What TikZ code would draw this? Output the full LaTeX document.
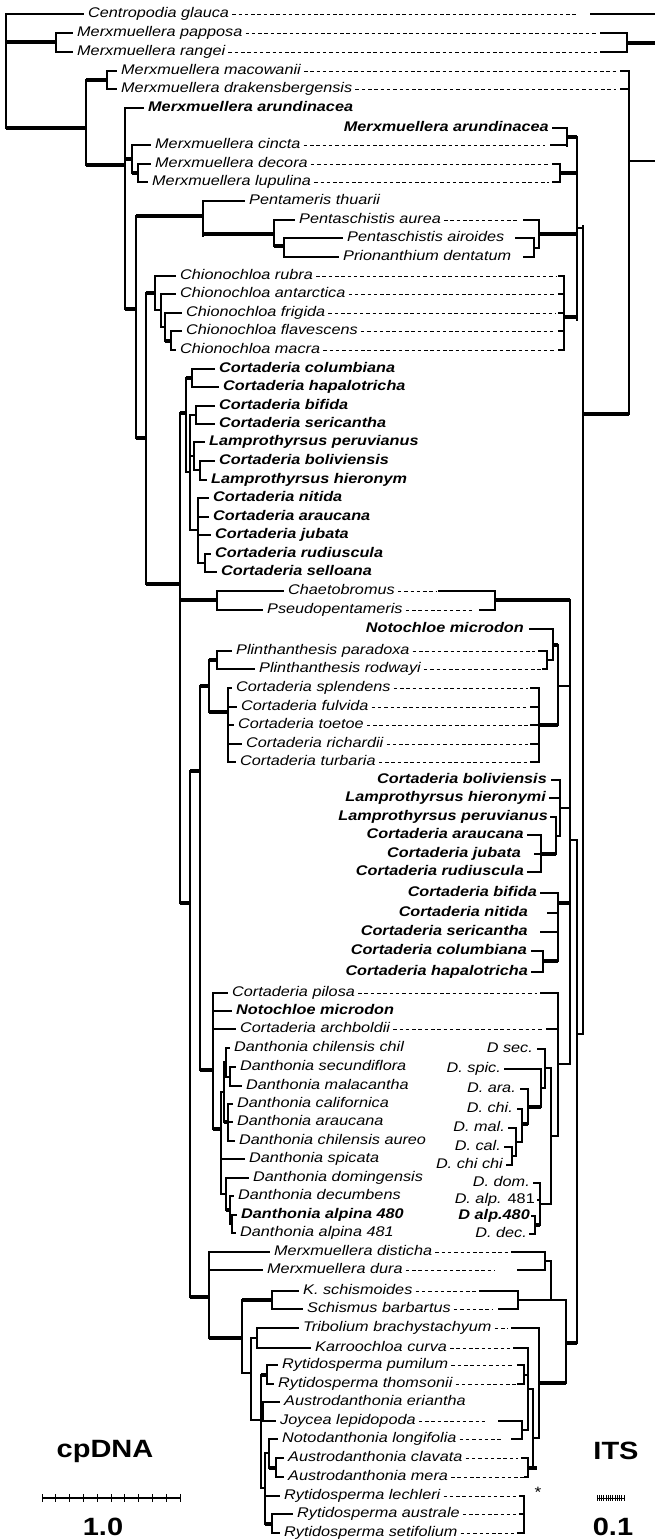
\documentclass[tikz,border=0pt]{standalone}
\usepackage{fontspec}
\setmainfont{Liberation Sans}[FakeStretch=1.16]
\tikzset{
	br/.style={line width=1.4pt, line cap=rect},
	thk/.style={line width=4.6pt},
	dsh/.style={line width=0.8pt, dash pattern=on 3.5pt off 2.8pt},
	tx/.style={anchor=west, inner sep=0pt, text height=10pt, text depth=3pt, font=\fontsize{14}{16}\selectfont\itshape},
	txb/.style={tx, font=\fontsize{14}{16}\selectfont\bfseries\itshape},
	rx/.style={tx, anchor=east},
	rxb/.style={txb, anchor=east},
	big/.style={inner sep=0pt, font=\fontsize{25}{28}\selectfont\bfseries}
}
\newcommand\ltip[2]{\draw[br] (#1,0 |- #2.west) -- ([xshift=-5pt]#2.west);}
\newcommand\rtip[4]{\draw[dsh] ([xshift=3pt]#1.east) -- (#1.east -| #2,0);
	\draw[br] (#1.east -| #3,0) -- (#1.east -| #4,0);}
\newcommand\rtick[3]{\draw[br] (#1.east -| #2,0) -- (#1.east -| #3,0);}
\begin{document}
\begin{tikzpicture}[x=1pt, y=-1pt]
	\useasboundingbox (0,0) rectangle (655,1540);

	\node[tx] (Lcen) at (88,14) {Centropodia glauca};
	\node[tx] (Lpap) at (77,33) {Merxmuellera papposa};
	\node[tx] (Lran) at (77,52) {Merxmuellera rangei};
	\node[tx] (Lmac) at (121,71) {Merxmuellera macowanii};
	\node[tx] (Ldra) at (121,89) {Merxmuellera drakensbergensis};
	\node[txb] (Laru) at (148,108) {Merxmuellera arundinacea};
	\node[tx] (Lcin) at (155,145) {Merxmuellera cincta};
	\node[tx] (Ldec) at (155,164) {Merxmuellera decora};
	\node[tx] (Llup) at (152,182) {Merxmuellera lupulina};
	\node[tx] (Lthu) at (249,201) {Pentameris thuarii};
	\node[tx] (Laur) at (299,220) {Pentaschistis aurea};
	\node[tx] (Lair) at (347,238) {Pentaschistis airoides};
	\node[tx] (Lpri) at (343,257) {Prionanthium dentatum};
	\node[tx] (Lrub) at (180,276) {Chionochloa rubra};
	\node[tx] (Lant) at (180,294) {Chionochloa antarctica};
	\node[tx] (Lfri) at (186,313) {Chionochloa frigida};
	\node[tx] (Lfla) at (186,331) {Chionochloa flavescens};
	\node[tx] (Lmcr) at (180,350) {Chionochloa macra};
	\node[txb] (Lcol) at (219,369) {Cortaderia columbiana};
	\node[txb] (Lhap) at (223,387) {Cortaderia hapalotricha};
	\node[txb] (Lbif) at (219,406) {Cortaderia bifida};
	\node[txb] (Lser) at (219,424) {Cortaderia sericantha};
	\node[txb] (Lper) at (209,442) {Lamprothyrsus peruvianus};
	\node[txb] (Lbol) at (219,461) {Cortaderia boliviensis};
	\node[txb] (Lhie) at (211,480) {Lamprothyrsus hieronym};
	\node[txb] (Lnit) at (213,498) {Cortaderia nitida};
	\node[txb] (Lara) at (213,517) {Cortaderia araucana};
	\node[txb] (Ljub) at (215,535) {Cortaderia jubata};
	\node[txb] (Lrud) at (215,554) {Cortaderia rudiuscula};
	\node[txb] (Lsel) at (221,572) {Cortaderia selloana};
	\node[tx] (Lcha) at (288,591) {Chaetobromus};
	\node[tx] (Lpse) at (267,610) {Pseudopentameris};
	\node[tx] (Lpar) at (236,651) {Plinthanthesis paradoxa};
	\node[tx] (Lrod) at (259,669) {Plinthanthesis rodwayi};
	\node[tx] (Lspl) at (236,688) {Cortaderia splendens};
	\node[tx] (Lful) at (241,707) {Cortaderia fulvida};
	\node[tx] (Ltoe) at (238,725) {Cortaderia toetoe};
	\node[tx] (Lric) at (246,744) {Cortaderia richardii};
	\node[tx] (Ltur) at (240,762) {Cortaderia turbaria};
	\node[tx] (Lpil) at (232,993) {Cortaderia pilosa};
	\node[txb] (Lnot) at (236,1011) {Notochloe microdon};
	\node[tx] (Larc) at (240,1029) {Cortaderia archboldii};
	\node[tx] (Ldch) at (234,1048) {Danthonia chilensis chil};
	\node[tx] (Ldse) at (240,1067) {Danthonia secundiflora};
	\node[tx] (Ldma) at (246,1086) {Danthonia malacantha};
	\node[tx] (Ldca) at (237,1104) {Danthonia californica};
	\node[tx] (Ldar) at (237,1122) {Danthonia araucana};
	\node[tx] (Ldau) at (239,1141) {Danthonia chilensis aureo};
	\node[tx] (Ldsp) at (249,1159) {Danthonia spicata};
	\node[tx] (Ldom) at (253,1178) {Danthonia domingensis};
	\node[tx] (Lddc) at (238,1196) {Danthonia decumbens};
	\node[txb] (Ld80) at (241,1215) {Danthonia alpina 480};
	\node[tx] (Ld81) at (240,1233) {Danthonia alpina 481};
	\node[tx] (Ldis) at (274,1252) {Merxmuellera disticha};
	\node[tx] (Ldur) at (267,1270) {Merxmuellera dura};
	\node[tx] (Lksc) at (303,1291) {K. schismoides};
	\node[tx] (Lsch) at (307,1309) {Schismus barbartus};
	\node[tx] (Ltri) at (303,1328) {Tribolium brachystachyum};
	\node[tx] (Lkar) at (315,1348) {Karroochloa curva};
	\node[tx] (Lpum) at (282,1365) {Rytidosperma pumilum};
	\node[tx] (Ltho) at (278,1384) {Rytidosperma thomsonii};
	\node[tx] (Leri) at (284,1402) {Austrodanthonia eriantha};
	\node[tx] (Ljoy) at (280,1421) {Joycea lepidopoda};
	\node[tx] (Lnld) at (282,1439) {Notodanthonia longifolia};
	\node[tx] (Lcla) at (288,1458) {Austrodanthonia clavata};
	\node[tx] (Lmer) at (288,1477) {Austrodanthonia mera};
	\node[tx] (Llec) at (284,1496) {Rytidosperma lechleri};
	\node[tx] (Laus) at (297,1514) {Rytidosperma australe};
	\node[tx] (Lset) at (284,1533) {Rytidosperma setifolium};

	\node[rxb] (Raru) at (549,128) {Merxmuellera arundinacea};
	\node[rxb] (Rnot) at (524,629) {Notochloe microdon};
	\node[rxb] (Rbol) at (547,780) {Cortaderia boliviensis};
	\node[rxb] (Rhie) at (546,798) {Lamprothyrsus hieronymi};
	\node[rxb] (Rper) at (548,817) {Lamprothyrsus peruvianus};
	\node[rxb] (Rara) at (524,835) {Cortaderia araucana};
	\node[rxb] (Rjub) at (521,854) {Cortaderia jubata};
	\node[rxb] (Rrud) at (524,872) {Cortaderia rudiuscula};
	\node[rxb] (Rbif) at (537,893) {Cortaderia bifida};
	\node[rxb] (Rnit) at (528,913) {Cortaderia nitida};
	\node[rxb] (Rser) at (528,932) {Cortaderia sericantha};
	\node[rxb] (Rcol) at (527,951) {Cortaderia columbiana};
	\node[rxb] (Rhap) at (528,972) {Cortaderia hapalotricha};
	\node[rx] (Rsec) at (533,1049) {D sec.};
	\node[rx] (Rspi) at (501,1069) {D. spic.};
	\node[rx] (Rdara) at (516,1089) {D. ara.};
	\node[rx] (Rdchi) at (513,1109) {D. chi.};
	\node[rx] (Rdmal) at (505,1128) {D. mal.};
	\node[rx] (Rdcal) at (501,1147) {D. cal.};
	\node[rx] (Rdcc) at (503,1165) {D. chi chi};
	\node[rx] (Rddom) at (530,1183) {D. dom.};
	\node[rx] (Rda81) at (535,1200) {D. alp. \upshape 481};
	\node[rxb] (Rda80) at (530,1216) {D alp.480};
	\node[rx] (Rddec) at (527,1234) {D. dec.};

	\draw[br] (6,14) -- (6,128);
	\ltip{6}{Lcen}
	\draw[thk] (6,42) -- (56,42);
	\draw[br] (56,33) -- (56,52);
	\ltip{56}{Lpap} \ltip{56}{Lran}
	\draw[thk] (6,128) -- (86,128);
	\draw[br] (86,80) -- (86,165);
	\draw[thk] (86,80) -- (107,80);
	\draw[br] (107,71) -- (107,89);
	\ltip{107}{Lmac} \ltip{107}{Ldra}
	\draw[thk] (86,165) -- (125,165);
	\draw[br] (125,108) -- (125,309);
	\ltip{125}{Laru}
	\draw[thk] (125,159) -- (132,159);
	\draw[br] (132,145) -- (132,173);
	\ltip{132}{Lcin}
	\draw[thk] (132,173) -- (138,173);
	\draw[br] (138,164) -- (138,182);
	\ltip{138}{Ldec} \ltip{138}{Llup}
	\draw[thk] (125,309) -- (136,309);
	\draw[br] (136,216) -- (136,438);
	\draw[thk] (136,216) -- (203,216);
	\draw[br] (203,201) -- (203,236);
	\ltip{203}{Lthu}
	\draw[thk] (203,234) -- (274,234);
	\draw[br] (274,220) -- (274,246);
	\ltip{274}{Laur}
	\draw[thk] (274,246) -- (284,246);
	\draw[br] (284,238) -- (284,257);
	\ltip{284}{Lair} \ltip{284}{Lpri}
	\draw[thk] (136,438) -- (146,438);
	\draw[br] (146,293) -- (146,584);
	\draw[thk] (146,293) -- (155,293);
	\draw[br] (155,276) -- (155,310) -- (161,310);
	\ltip{155}{Lrub}
	\draw[br] (161,294) -- (161,327) -- (165,327);
	\ltip{161}{Lant}
	\draw[br] (165,313) -- (165,341);
	\ltip{165}{Lfri}
	\draw[thk] (165,341) -- (171,341);
	\draw[br] (171,331) -- (171,350);
	\ltip{171}{Lfla} \ltip{171}{Lmcr}

	\draw[thk] (146,584) -- (180,584);
	\draw[br] (180,413) -- (180,903);
	\draw[thk] (180,413) -- (186,413);
	\draw[br] (186,378) -- (186,472) -- (190,472);
	\draw[thk] (186,378) -- (192,378);
	\draw[br] (192,369) -- (192,387);
	\ltip{192}{Lcol} \ltip{192}{Lhap}
	\draw[br] (190,415) -- (190,530);
	\draw[br] (190,415) -- (196,415);
	\draw[br] (196,406) -- (196,424);
	\ltip{196}{Lbif} \ltip{196}{Lser}
	\draw[br] (190,456) -- (194,456);
	\draw[br] (194,442) -- (194,470) -- (200,470);
	\ltip{194}{Lper}
	\draw[br] (200,461) -- (200,480);
	\ltip{200}{Lbol} \ltip{200}{Lhie}
	\draw[br] (190,530) -- (198,530);
	\draw[br] (198,498) -- (198,563) -- (205,563);
	\ltip{198}{Lnit} \ltip{198}{Lara} \ltip{198}{Ljub}
	\draw[br] (205,554) -- (205,572);
	\ltip{205}{Lrud} \ltip{205}{Lsel}

	\draw[thk] (180,600) -- (217,600);
	\draw[br] (217,591) -- (217,610);
	\ltip{217}{Lcha} \ltip{217}{Lpse}
	\draw[thk] (180,903) -- (190,903);
	\draw[br] (190,771) -- (190,1297);
	\draw[thk] (190,771) -- (200,771);
	\draw[br] (200,686) -- (200,1070);
	\draw[thk] (200,686) -- (209,686);
	\draw[br] (209,660) -- (209,712);
	\draw[thk] (209,660) -- (217,660);
	\draw[br] (217,651) -- (217,669);
	\ltip{217}{Lpar} \ltip{217}{Lrod}
	\draw[thk] (209,712) -- (228,712);
	\draw[br] (228,688) -- (228,762);
	\ltip{228}{Lspl} \ltip{228}{Lful} \ltip{228}{Ltoe} \ltip{228}{Lric} \ltip{228}{Ltur}
	\draw[thk] (200,1070) -- (213,1070);
	\draw[br] (213,993) -- (213,1129);
	\ltip{213}{Lpil} \ltip{213}{Lnot} \ltip{213}{Larc}
	\draw[thk] (213,1129) -- (221,1129);
	\draw[br] (221,1092) -- (221,1194);
	\draw[br] (221,1092) -- (224,1092);
	\draw[br] (224,1062) -- (224,1122);
	\draw[br] (224,1062) -- (226,1062);
	\draw[br] (226,1048) -- (226,1077) -- (230,1077);
	\ltip{226}{Ldch}
	\draw[br] (230,1067) -- (230,1086);
	\ltip{230}{Ldse} \ltip{230}{Ldma}
	\draw[thk] (224,1122) -- (228,1122);
	\draw[br] (228,1104) -- (228,1141);
	\ltip{228}{Ldca} \ltip{228}{Ldar} \ltip{228}{Ldau}
	\ltip{221}{Ldsp}
	\draw[br] (221,1194) -- (226,1194);
	\draw[br] (226,1178) -- (226,1210);
	\ltip{226}{Ldom}
	\draw[thk] (226,1210) -- (230,1210);
	\draw[br] (230,1196) -- (230,1224) -- (232,1224);
	\ltip{230}{Lddc}
	\draw[br] (232,1215) -- (232,1233);
	\ltip{232}{Ld80} \ltip{232}{Ld81}

	\draw[thk] (190,1297) -- (209,1297);
	\draw[br] (209,1252) -- (209,1338);
	\ltip{209}{Ldis} \ltip{209}{Ldur}
	\draw[thk] (209,1338) -- (242,1338);
	\draw[br] (242,1300) -- (242,1373) -- (251,1373);
	\draw[thk] (242,1300) -- (272,1300);
	\draw[br] (272,1291) -- (272,1309);
	\ltip{272}{Lksc} \ltip{272}{Lsch}
	\draw[br] (251,1338) -- (251,1420) -- (261,1420);
	\draw[br] (251,1338) -- (257,1338);
	\draw[br] (257,1328) -- (257,1348);
	\ltip{257}{Ltri} \ltip{257}{Lkar}
	\draw[br] (261,1375) -- (261,1488) -- (265,1488);
	\draw[thk] (261,1375) -- (267,1375);
	\draw[br] (267,1365) -- (267,1384);
	\ltip{267}{Lpum} \ltip{267}{Ltho}
	\draw[br] (261,1412) -- (263,1412);
	\draw[br] (263,1402) -- (263,1421);
	\ltip{263}{Leri} \ltip{263}{Ljoy}
	\draw[br] (265,1453) -- (265,1524);
	\draw[br] (265,1453) -- (269,1453);
	\draw[br] (269,1439) -- (269,1468);
	\ltip{269}{Lnld}
	\draw[thk] (269,1468) -- (276,1468);
	\draw[br] (276,1458) -- (276,1477);
	\ltip{276}{Lcla} \ltip{276}{Lmer}
	\ltip{265}{Llec}
	\draw[thk] (265,1524) -- (272,1524);
	\draw[br] (272,1514) -- (272,1533);
	\ltip{272}{Laus} \ltip{272}{Lset}

	\draw[dsh] ([xshift=3pt]Lcen.east) -- (Lcen.east -| 576,0);
	\draw[br, line width=2.4pt] (Lcen.east -| 591,0) -- (Lcen.east -| 655,0);
	\rtip{Lpap}{597}{601}{627}
	\rtip{Lran}{597}{601}{627}
	\draw[br] (627,33) -- (627,52);
	\draw[thk] (627,43) -- (655,43);
	\rtip{Lmac}{618}{621}{629}
	\rtip{Ldra}{616}{621}{629}
	\draw[br] (629,71) -- (629,414);
	\draw[br] (629,161) -- (655,161);
	\draw[thk] (583,414) -- (629,414);
	\draw[br] (583,226) -- (583,1034);
	\draw[br] (577,228) -- (583,228);
	\draw[br] (577,137) -- (577,320);
	\rtick{Raru}{553}{567}
	\rtip{Lcin}{545}{551}{567}
	\draw[br] (567,128) -- (567,146);
	\draw[thk] (567,137) -- (577,137);
	\rtip{Ldec}{549}{553}{560}
	\rtip{Llup}{549}{553}{560}
	\draw[br] (560,164) -- (560,182);
	\draw[thk] (560,173) -- (577,173);
	\rtip{Laur}{518}{524}{539}
	\draw[br] (539,220) -- (539,248);
	\draw[thk] (539,234) -- (577,234);
	\rtick{Lair}{516}{534}
	\rtick{Lpri}{524}{534}
	\draw[br] (534,238) -- (534,257);
	\draw[br] (534,248) -- (539,248);
	\rtip{Lrub}{556}{559}{564}
	\rtip{Lant}{556}{559}{564}
	\rtip{Lfri}{556}{559}{564}
	\rtip{Lfla}{556}{559}{564}
	\rtip{Lmcr}{556}{559}{564}
	\draw[br] (564,276) -- (564,350);
	\draw[thk] (564,317) -- (577,317);

	\rtip{Lcha}{436}{439}{495}
	\rtip{Lpse}{474}{480}{495}
	\draw[br] (495,591) -- (495,610);
	\draw[thk] (495,600) -- (570,600);
	\draw[br] (570,600) -- (570,1064);
	\draw[br] (570,840) -- (577,840);
	\draw[br] (577,840) -- (577,1343);
	\draw[br] (577,1034) -- (583,1034);
	\rtick{Rnot}{530}{553}
	\rtip{Lpar}{535}{539}{547}
	\rtip{Lrod}{541}{543}{547}
	\draw[br] (547,651) -- (547,669);
	\draw[br] (547,660) -- (553,660);
	\draw[br] (553,629) -- (553,660);
	\draw[thk] (553,645) -- (558,645);
	\rtip{Lspl}{528}{531}{539}
	\rtip{Lful}{528}{531}{539}
	\rtip{Ltoe}{528}{531}{539}
	\rtip{Lric}{528}{531}{539}
	\rtip{Ltur}{528}{531}{539}
	\draw[br] (539,688) -- (539,762);
	\draw[thk] (539,725) -- (558,725);
	\draw[br] (558,645) -- (558,725);
	\draw[br] (558,686) -- (570,686);

	\rtick{Rbol}{552}{560}
	\rtick{Rhie}{550}{560}
	\draw[br] (560,780) -- (560,836);
	\draw[br] (560,808) -- (570,808);
	\rtick{Rper}{551}{556}
	\draw[br] (556,817) -- (556,854);
	\draw[br] (556,836) -- (560,836);
	\rtick{Rara}{528}{541}
	\rtick{Rjub}{535}{541}
	\rtick{Rrud}{528}{541}
	\draw[br] (541,835) -- (541,872);
	\draw[thk] (541,854) -- (556,854);
	\rtick{Rbif}{541}{558}
	\rtick{Rnit}{548}{558}
	\rtick{Rser}{541}{558}
	\draw[br] (558,893) -- (558,961);
	\draw[thk] (558,903) -- (570,903);
	\rtick{Rcol}{532}{543}
	\rtick{Rhap}{532}{543}
	\draw[br] (543,951) -- (543,972);
	\draw[thk] (543,961) -- (558,961);

	\rtip{Lpil}{537}{541}{558}
	\rtip{Larc}{543}{547}{558}
	\draw[br] (558,993) -- (558,1136);
	\draw[br] (558,1064) -- (570,1064);
	\rtick{Rsec}{538}{545}
	\draw[br] (545,1049) -- (545,1088);
	\draw[br] (545,1068) -- (551,1068);
	\rtick{Rspi}{505}{541}
	\draw[br] (541,1069) -- (541,1107);
	\draw[br] (541,1088) -- (545,1088);
	\rtick{Rdara}{521}{528}
	\draw[br] (528,1089) -- (528,1124);
	\draw[thk] (528,1107) -- (541,1107);
	\rtick{Rdchi}{518}{522}
	\draw[br] (522,1109) -- (522,1142);
	\draw[thk] (522,1124) -- (528,1124);
	\rtick{Rdmal}{509}{516}
	\draw[br] (516,1128) -- (516,1156);
	\draw[br] (516,1142) -- (522,1142);
	\rtick{Rdcal}{505}{512}
	\rtick{Rdcc}{507}{512}
	\draw[br] (512,1147) -- (512,1165);
	\draw[br] (512,1156) -- (516,1156);
	\rtick{Rddom}{534}{540}
	\rtick{Rda81}{538}{540}
	\draw[br] (540,1183) -- (540,1225);
	\rtick{Rda80}{532}{535}
	\rtick{Rddec}{530}{535}
	\draw[br] (535,1216) -- (535,1234);
	\draw[thk] (535,1225) -- (540,1225);
	\draw[br] (540,1204) -- (551,1204);
	\draw[br] (551,1068) -- (551,1204);
	\draw[br] (551,1136) -- (558,1136);

	\rtip{Ldis}{510}{512}{545}
	\rtip{Ldur}{495}{518}{545}
	\draw[br] (545,1252) -- (545,1270);
	\draw[br] (545,1261) -- (551,1261) -- (551,1300);
	\rtip{Lksc}{476}{480}{518}
	\rtip{Lsch}{493}{499}{518}
	\draw[br] (518,1291) -- (518,1309);
	\draw[br] (518,1300) -- (566,1300);
	\draw[br] (566,1300) -- (566,1383);
	\draw[thk] (566,1343) -- (577,1343);
	\rtip{Ltri}{508}{512}{539}
	\draw[br] (539,1328) -- (539,1438);
	\draw[thk] (539,1383) -- (566,1383);
	\rtip{Lkar}{510}{514}{528}
	\rtip{Lpum}{514}{518}{524}
	\rtip{Ltho}{516}{518}{524}
	\draw[br] (524,1365) -- (524,1384);
	\draw[br] (524,1375) -- (528,1375);
	\draw[br] (528,1348) -- (528,1430);
	\rtip{Ljoy}{487}{499}{522}
	\rtip{Lnld}{503}{512}{522}
	\draw[br] (522,1421) -- (522,1439);
	\draw[br] (522,1430) -- (528,1430);
	\draw[br] (528,1389) -- (533,1389);
	\draw[br] (533,1389) -- (533,1468);
	\draw[br] (533,1438) -- (539,1438);
	\rtip{Lcla}{518}{522}{528}
	\rtip{Lmer}{524}{525}{528}
	\draw[br] (528,1458) -- (528,1477);
	\draw[thk] (528,1468) -- (537,1468);
	\rtip{Llec}{516}{520}{524}
	\rtip{Laus}{516}{520}{524}
	\rtip{Lset}{514}{518}{524}
	\draw[br] (524,1496) -- (524,1533);
	\node[inner sep=0pt, font=\fontsize{15}{16}\selectfont] (ast) at (538,1492) {*};

	\node[big] (cpl) at (105,1451) {cpDNA};
	\node[big] (cps) at (103,1527) {1.0};
	\draw[line width=1.1pt] (42,1498) -- (180,1498);
	\foreach \i in {0,...,10}
		\draw[line width=1pt] (42+13.8*\i,1494) -- (42+13.8*\i,1502);
	\node[big] (itl) at (616,1451) {ITS};
	\node[big] (its) at (613,1527) {0.1};
	\draw[line width=1pt] (597,1498) -- (624,1498);
	\foreach \i in {0,...,12}
		\draw[line width=0.6pt] (597+2.25*\i,1495) -- (597+2.25*\i,1501);
\end{tikzpicture}
\end{document}
